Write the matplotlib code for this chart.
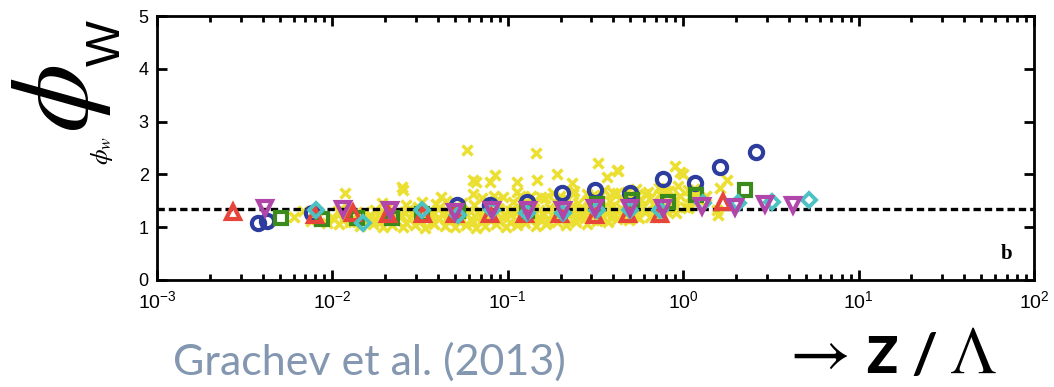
import numpy as np
import matplotlib.pyplot as plt

plt.rcParams['font.family'] = ['Liberation Sans', 'DejaVu Sans']
plt.rcParams['mathtext.fontset'] = 'custom'
plt.rcParams['mathtext.rm'] = 'Liberation Sans'
plt.rcParams['mathtext.it'] = 'Liberation Sans:italic'

# reference line
phi_ref = 1.34

# data sets (z / Lambda, phi_w)
circ_x = [0.00377, 0.00424, 0.00766, 0.0513, 0.0792, 0.1286, 0.204, 0.314, 0.497, 0.767, 1.167, 1.62, 2.60]
circ_y = [1.08, 1.12, 1.27, 1.42, 1.42, 1.48, 1.65, 1.70, 1.65, 1.91, 1.84, 2.14, 2.42]

sq_x = [0.00509, 0.00873, 0.0138, 0.0219, 0.0324, 0.052, 0.1286, 0.323, 0.511, 0.819, 1.18, 2.25]
sq_y = [1.17, 1.15, 1.17, 1.17, 1.25, 1.30, 1.30, 1.44, 1.51, 1.48, 1.61, 1.70]

tri_x = [0.00271, 0.00797, 0.01309, 0.0207, 0.0329, 0.050, 0.0792, 0.125, 0.199, 0.314, 0.484, 0.738, 1.69]
tri_y = [1.29, 1.23, 1.27, 1.25, 1.25, 1.25, 1.25, 1.25, 1.25, 1.23, 1.25, 1.25, 1.48]

dia_x = [0.00807, 0.0149, 0.0324, 0.052, 0.0813, 0.1286, 0.206, 0.323, 0.497, 0.738, 1.30, 2.05, 3.21, 5.21]
dia_y = [1.33, 1.08, 1.33, 1.23, 1.33, 1.27, 1.27, 1.33, 1.33, 1.33, 1.46, 1.46, 1.48, 1.51]

dtri_x = [0.00413, 0.01149, 0.0213, 0.050, 0.0813, 0.130, 0.206, 0.314, 0.497, 0.767, 1.28, 1.97, 2.93, 4.23]
dtri_y = [1.36, 1.34, 1.33, 1.29, 1.33, 1.33, 1.33, 1.36, 1.36, 1.36, 1.40, 1.38, 1.44, 1.42]

# yellow crosses, log10(z / Lambda)
cross_lx = [
    -2.22, -2.17, -2.12, -2.03, -1.96, -1.9, -1.84, -1.77, -1.71, -1.66, -1.6, -1.53, -1.47, -1.42,
    -1.36, -1.3, -1.24, -1.18, -1.13, -1.07, -1.01, -0.95, -0.9, -0.84, -0.78, -0.72, -0.67, -0.61,
    -0.55, -0.49, -0.43, -0.38, -0.31, -0.25,
    -2.08, -1.99, -1.93, -1.87, -1.8, -1.74, -1.68, -1.62, -1.56, -1.5, -1.44, -1.39, -1.33, -1.27,
    -1.21, -1.15, -1.1, -1.04, -0.98, -0.92, -0.86, -0.81, -0.75, -0.69, -0.63, -0.58, -0.52, -0.46,
    -0.4, -0.34, -0.28, -0.22, -0.16, -0.1, -0.04,
    -1.97, -1.91, -1.82, -1.76, -1.69, -1.63, -1.57, -1.51, -1.45, -1.4, -1.34, -1.28, -1.22, -1.16,
    -1.11, -1.05, -0.99, -0.93, -0.88, -0.82, -0.76, -0.7, -0.64, -0.59, -0.53, -0.47, -0.41, -0.35,
    -0.29, -0.23, -0.17, -0.11, -0.05, 0.01, 0.07,
    -1.72, -1.58, -1.49, -1.41, -1.35, -1.26, -1.19, -1.12, -1.06, -0.97, -0.9, -0.85, -0.79, -0.73,
    -0.66, -0.6, -0.54, -0.48, -0.42, -0.36, -0.3, -0.24, -0.19, -0.13, -0.07, -0.02, 0.04, 0.09,
    -1.38, -1.2, -1.08, -0.95, -0.87, -0.74, -0.62, -0.55, -0.45, -0.38, -0.27, -0.2, -0.14, -0.08,
    -0.03, 0.03, 0.08, 0.13,
    -1.94, -1.88, -1.79, -1.73, -1.64, -1.58, -1.5, -1.43, -1.35, -1.28, -1.2, -1.14, -1.05, -0.99,
    -0.91, -0.83, -0.77, -0.7, -0.62, -0.56, -0.47, -0.41, -0.33, -0.27, -0.19, -0.12,
    -1.86, -1.78, -1.7, -1.61, -1.54, -1.46, -1.37, -1.31, -1.23, -1.17, -1.09, -1.02, -0.96, -0.87,
    -0.8, -0.73, -0.65, -0.57, -0.5, -0.44, -0.37, -0.3, -0.21, -0.14, -0.06, 0.03,
    -1.15, -1.03, -0.93, -0.81, -0.7, -0.63, -0.51, -0.4, -0.32, -0.22, -0.1, -0.05, 0.06,
    -1.928, -1.603, -1.597, -1.233, -1.198, -1.181, -1.101, -1.073, -0.948, -0.839, -0.834, -0.72,
    -0.634, -0.486, -0.434, -0.377, -0.372, -0.047, -0.018, 0.0, 0.193, 0.21, 0.25, -0.12, 0.2,
]
cross_y = [
    1.2, 1.3, 1.12, 1.08, 1.06, 1.1, 1.03, 1.07, 1.01, 1.05, 1.0, 1.04, 0.99, 1.06,
    1.02, 1.0, 1.05, 0.98, 1.03, 1.07, 1.01, 1.04, 1.08, 1.02, 1.06, 1.1, 1.05, 1.09,
    1.07, 1.12, 1.1, 1.15, 1.13, 1.18,
    1.2, 1.16, 1.22, 1.14, 1.19, 1.24, 1.15, 1.21, 1.17, 1.12, 1.23, 1.18, 1.14, 1.2,
    1.16, 1.22, 1.13, 1.19, 1.25, 1.17, 1.21, 1.15, 1.23, 1.18, 1.26, 1.2, 1.24, 1.19,
    1.27, 1.22, 1.25, 1.29, 1.24, 1.3, 1.27,
    1.3, 1.34, 1.28, 1.33, 1.36, 1.29, 1.32, 1.38, 1.31, 1.35, 1.29, 1.37, 1.33, 1.3,
    1.39, 1.34, 1.31, 1.36, 1.4, 1.33, 1.37, 1.32, 1.38, 1.35, 1.41, 1.36, 1.39, 1.34,
    1.42, 1.38, 1.44, 1.4, 1.43, 1.38, 1.45,
    1.45, 1.42, 1.48, 1.44, 1.5, 1.46, 1.43, 1.49, 1.52, 1.47, 1.44, 1.5, 1.55, 1.48,
    1.53, 1.46, 1.51, 1.57, 1.5, 1.54, 1.6, 1.52, 1.56, 1.62, 1.55, 1.6, 1.58, 1.52,
    1.58, 1.62, 1.6, 1.66, 1.59, 1.64, 1.68, 1.62, 1.7, 1.65, 1.72, 1.66, 1.74, 1.69,
    1.78, 1.7, 1.64, 1.6,
    1.13, 1.09, 1.15, 1.1, 1.12, 1.08, 1.14, 1.1, 1.16, 1.11, 1.09, 1.15, 1.12, 1.1,
    1.14, 1.17, 1.12, 1.15, 1.13, 1.18, 1.14, 1.2, 1.17, 1.22, 1.19, 1.24,
    1.25, 1.22, 1.27, 1.24, 1.28, 1.23, 1.26, 1.29, 1.24, 1.27, 1.3, 1.25, 1.28, 1.31,
    1.26, 1.3, 1.27, 1.32, 1.29, 1.33, 1.3, 1.35, 1.31, 1.36, 1.33, 1.37,
    1.55, 1.57, 1.6, 1.58, 1.6, 1.63, 1.61, 1.64, 1.66, 1.62, 1.68, 1.5, 1.72,
    1.65, 1.76, 1.70, 2.46, 1.89, 1.86, 1.86, 1.99, 1.86, 2.40, 1.89, 2.0,
    1.84, 2.21, 1.95, 2.08, 2.06, 2.16, 2.05, 2.0, 1.33, 1.74, 1.89, 1.19, 1.23,
]

fig = plt.figure(figsize=(10.54, 3.87), dpi=100)
ax = fig.add_axes([0.149, 0.2765, 0.832, 0.682])

ax.plot(10 ** np.array(cross_lx), cross_y, 'x', color='#ebe032', ms=7, mew=2.5, zorder=2)
ax.axhline(phi_ref, color='black', lw=2.4, dashes=(2.2, 1.2), zorder=3)

kw = dict(ls='none', mfc='none', zorder=4)
ax.plot(circ_x, circ_y, 'o', mec='#2d3d9e', ms=9.5, mew=3, **kw)
ax.plot(sq_x, sq_y, 's', mec='#3a8a1c', ms=8, mew=3, **kw)
ax.plot(tri_x, tri_y, '^', mec='#e8453a', ms=10, mew=3, **kw)
ax.plot(dia_x, dia_y, 'D', mec='#4cc2c4', ms=7.5, mew=2.8, **kw)
ax.plot(dtri_x, dtri_y, 'v', mec='#b046aa', ms=10.5, mew=3, **kw)

ax.set_xscale('log')
ax.set_xlim(1e-3, 1e2)
ax.set_ylim(0, 5)
ax.set_yticks([0, 1, 2, 3, 4, 5])
for s in ax.spines.values():
    s.set_linewidth(2)
ax.tick_params(which='both', direction='in', top=True, right=True, width=2)
ax.tick_params(which='major', length=7)
ax.tick_params(which='minor', length=4)
ax.tick_params(axis='y', labelsize=13, pad=6)
ax.tick_params(axis='x', labelsize=14, pad=7)

ax.text(0.975, 0.1, 'b', transform=ax.transAxes, ha='right', va='center',
        family='Liberation Serif', fontweight='bold', fontsize=15)

# labels
fig.text(0.058, 1 - 99 / 387, r'$\phi$', rotation=90, ha='center', va='center',
         fontsize=80, math_fontfamily='stix')
fig.text(0.1015, 1 - 43 / 387, 'W', rotation=90, ha='center', va='center', fontsize=35)
fig.text(0.0968, 0.612, r'$\phi_w$', rotation=90, ha='center', va='center',
         fontsize=18, math_fontfamily='stix')

fig.text(173 / 1054, 0.031, 'Grachev et al. (2013)', family='Lato', color='#8497b0',
         fontsize=31, ha='left', va='baseline')
fig.text(780 / 1054, 1 - 355 / 387, r'$\rightarrow$', fontsize=48, math_fontfamily='stix',
         ha='left', va='center')
fig.text(882 / 1054, 0.036, 'z', family='Lato', fontweight='bold', fontsize=52,
         ha='center', va='baseline')
fig.text(924 / 1054, 0.036, '/', family='Lato', fontweight='bold', fontsize=40,
         ha='center', va='baseline')
fig.text(973 / 1054, 0.036, r'$\Lambda$', fontsize=48, math_fontfamily='stix',
         ha='center', va='baseline')

fig.savefig('out.png', dpi=100)
